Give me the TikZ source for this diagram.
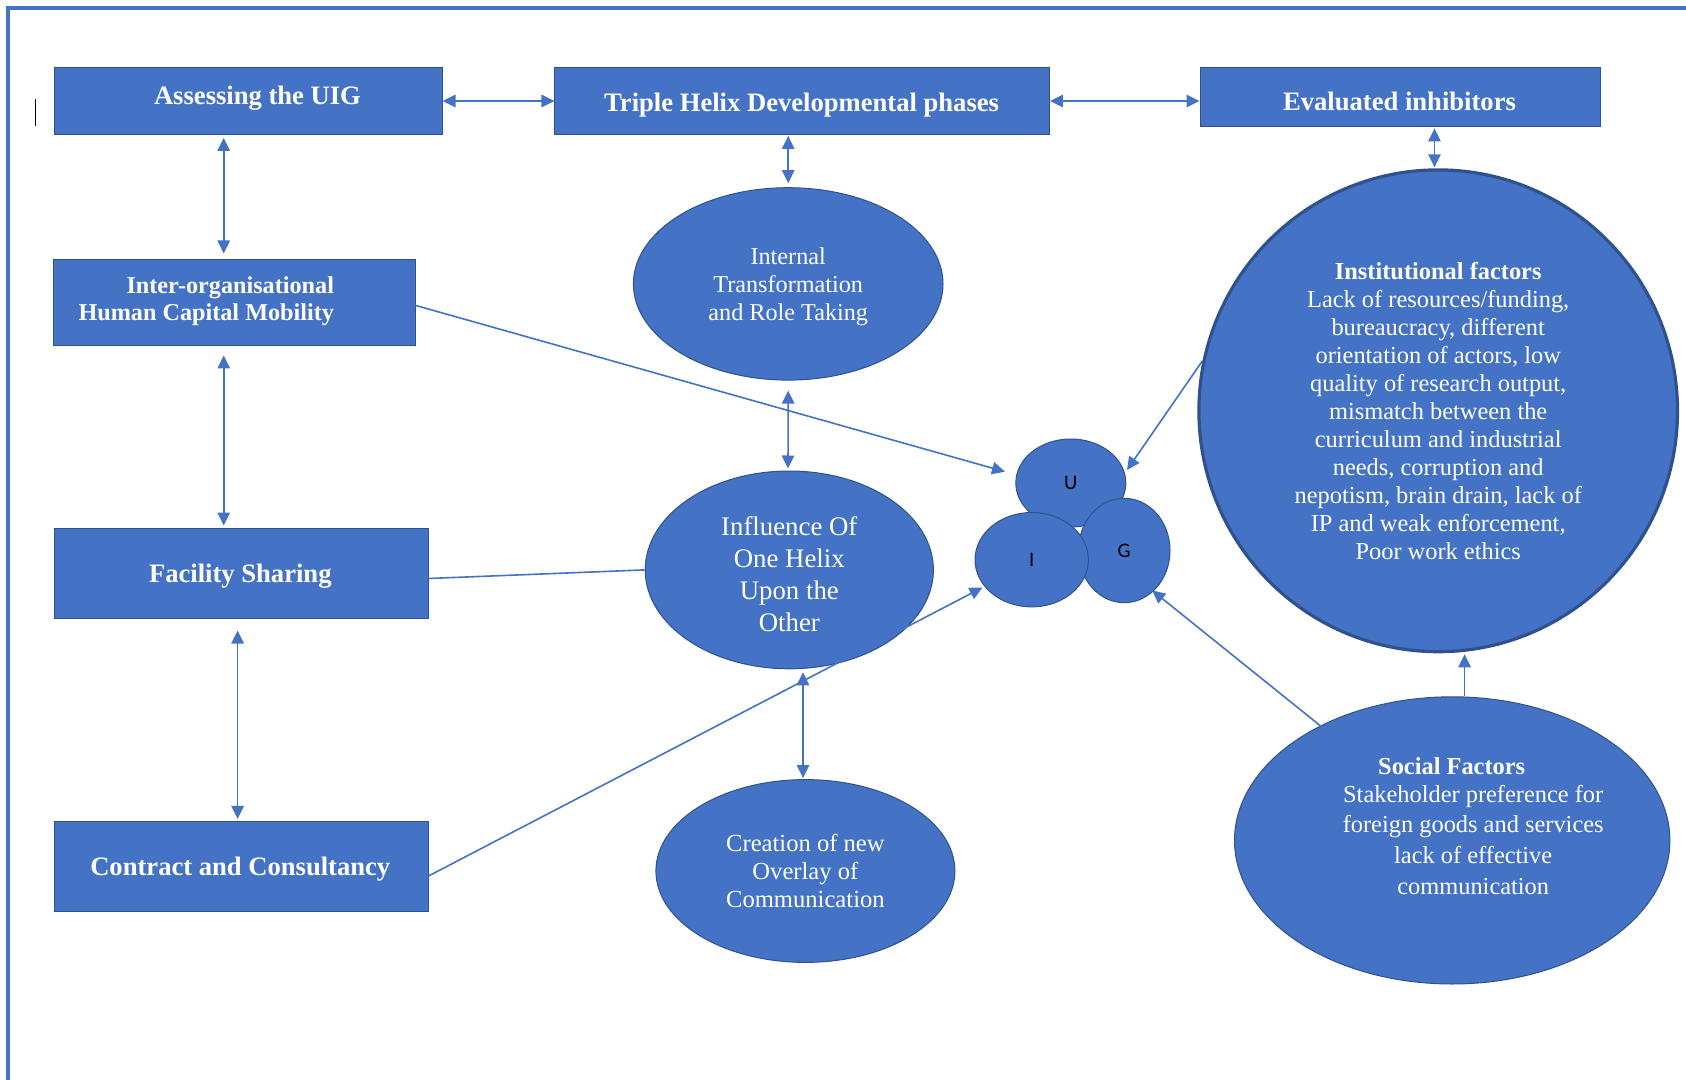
\documentclass[tikz,border=0pt]{standalone}
\usepackage{fontspec}
\setmainfont{Liberation Serif}
\newfontfamily\helixfont{Carlito}
\usetikzlibrary{arrows.meta,shapes.geometric,calc}
\definecolor{officeblue}{HTML}{4472C4}
\definecolor{officeedge}{HTML}{2F528F}
\begin{document}
\begin{tikzpicture}[x=0.5pt,y=-0.5pt,
  >={Triangle[length=6.5pt,width=6.2pt]},
  box/.style={rectangle, draw=officeedge, line width=0.5pt, fill=officeblue, inner sep=0pt},
  boxtxt/.style={text=white, font=\bfseries\fontsize{13.3}{15}\selectfont, inner sep=0pt},
  bubble/.style={ellipse, draw=officeedge, line width=0.5pt, fill=officeblue, inner sep=0pt,
                 text=white, align=center},
  helix/.style={ellipse, draw=officeedge, line width=0.5pt, fill=officeblue, inner sep=0pt,
                text=black, font=\helixfont\fontsize{10.3}{12}\selectfont},
  link/.style={draw=officeblue, line width=0.8pt},
  twoway/.style={link, <->},
  oneway/.style={link, ->}
]
\useasboundingbox (0,0) rectangle (1686,1080);
\clip (0,0) rectangle (1686,1080);

% page frame
\draw[officeblue, line width=2pt] (7.7,1100) -- (7.7,8) -- (1700,8);
% text cursor mark
\draw[black, line width=0.8pt] (35.5,99) -- (35.5,126);

% ---------- rectangles ----------
\node[box, minimum width=194pt,    minimum height=33.35pt] (assess) at (248,101)   {};
\node[box, minimum width=247.25pt, minimum height=33.35pt] (triple) at (802.2,101) {};
\node[box, minimum width=200pt,    minimum height=29.6pt]  (evald)  at (1400,97.3) {};
\node[box, minimum width=180.6pt,  minimum height=43pt]    (inter)  at (234.4,303) {};
\node[box, minimum width=187pt,    minimum height=45pt]    (facil)  at (241,573)   {};
\node[box, minimum width=187pt,    minimum height=45.25pt] (contr)  at (241,866.7) {};

\node[boxtxt] (assesslbl) at (257.5,97.8)  {Assessing the UIG};
\node[boxtxt] (triplelbl) at (801.6,105.4) {Triple Helix Developmental phases};
\node[boxtxt] (evaldlbl)  at (1399.5,101.5) {Evaluated inhibitors};
\node[boxtxt, font=\bfseries\fontsize{12.1}{13.4}\selectfont, align=right, anchor=east]
  (interlbl) at (334.4,301.4) {Inter-organisational\\Human Capital Mobility};
\node[boxtxt] (facillbl)  at (240.3,576.3) {Facility Sharing};
\node[boxtxt] (contrlbl)  at (240.3,869.5) {Contract and Consultancy};

% ---------- ellipses ----------
\node[bubble, minimum width=154.8pt, minimum height=96.2pt, font=\fontsize{12.1}{14}\selectfont]
  (internal) at (788.2,283.9) {};
\node[text=white, align=center, inner sep=0pt, font=\fontsize{12.1}{14}\selectfont]
  (internallbl) at (788.2,286.8) {Internal\\Transformation\\and Role Taking};
\node[bubble, minimum width=144.1pt, minimum height=98.9pt] (influ) at (789.3,569.9) {};
\node[text=white, align=center, inner sep=0pt, font=\fontsize{13.4}{15.9}\selectfont]
  (influlbl) at (789.3,574) {Influence Of\\One Helix\\Upon the\\Other};
\node[bubble, minimum width=149.5pt, minimum height=91.4pt, font=\fontsize{12.3}{14}\selectfont]
  (creation) at (805.4,871) {Creation of new\\Overlay of\\Communication};
\node[bubble, line width=1.6pt, minimum width=239.3pt, minimum height=240.9pt,
      font=\fontsize{12.2}{14}\selectfont]
  (instit) at (1438.2,410.8) {\textbf{Institutional factors}\\
    Lack of resources/funding,\\
    bureaucracy, different\\
    orientation of actors, low\\
    quality of research output,\\
    mismatch between the\\
    curriculum and industrial\\
    needs, corruption and\\
    nepotism, brain drain, lack of\\
    IP and weak enforcement,\\
    Poor work ethics};
\node[bubble, minimum width=217.7pt, minimum height=143.6pt] (social) at (1452.2,840.4) {};
\node[text=white, align=center, inner sep=0pt, font=\fontsize{12.2}{15.3}\selectfont]
  (sociallbl) at (1473.2,825.8) {\textbf{Social Factors}\hspace*{21.5pt}\\[-1.3pt]
    Stakeholder preference for\\
    foreign goods and services\\
    lack of effective\\
    communication};

% ---------- U / I / G cluster ----------
\node[helix, minimum width=55pt,   minimum height=44pt]   (U) at (1070.8,483)   {U};
\node[helix, minimum width=45.8pt, minimum height=52.2pt] (G) at (1124.2,550.5) {G};
\node[helix, minimum width=56.7pt, minimum height=47.2pt] (I) at (1031.7,559.7) {I};

% ---------- connectors ----------
\draw[twoway] (assess.east) -- (triple.west);
\draw[twoway] (triple.east) -- (triple.east -| evald.west);
\draw[twoway] ($(assess.south)+(-24.3,3)$)  -- ($(inter.north)+(-10.7,-6)$);
\draw[twoway] ($(triple.south)+(-14,1)$)    -- ($(internal.north)+(0,-4)$);
\draw[twoway] ($(evald.south)+(34.5,1)$)    -- ($(instit.north)+(-3.7,-1)$);
\draw[twoway] ($(inter.south)+(-10.7,9)$)   -- ($(facil.north)+(-17.3,-2)$);
\draw[twoway] ($(facil.south)+(-3.4,12)$)   -- ($(contr.north)+(-3.4,-2)$);
\draw[twoway] ($(internal.south)+(0,10)$)   -- ($(influ.north)+(-1.3,-2)$);
\draw[twoway] ($(influ.south)+(13.7,3)$)    -- ($(creation.north)+(-2.4,-1)$);

\draw[link]   ($(facil.east)+(0,5.5)$) -- (influ.west);
\draw[oneway] ($(inter.east)+(0,2.4)$) -- ($(U.center)+(-65.8,-11.3)$);
\draw[oneway] ($(contr.east)+(0,9.3)$) -- ($(I.center)+(-49.2,27.8)$);
\draw[oneway] (instit.168.3) -- ($(U.center)+(56.2,-13)$);
\draw[oneway] (social.139.8) -- ($(G.center)+(28,40)$);
\draw[oneway] ($(social.north)+(12.4,0)$) -- ($(instit.south)+(26.4,1)$);
\end{tikzpicture}
\end{document}
